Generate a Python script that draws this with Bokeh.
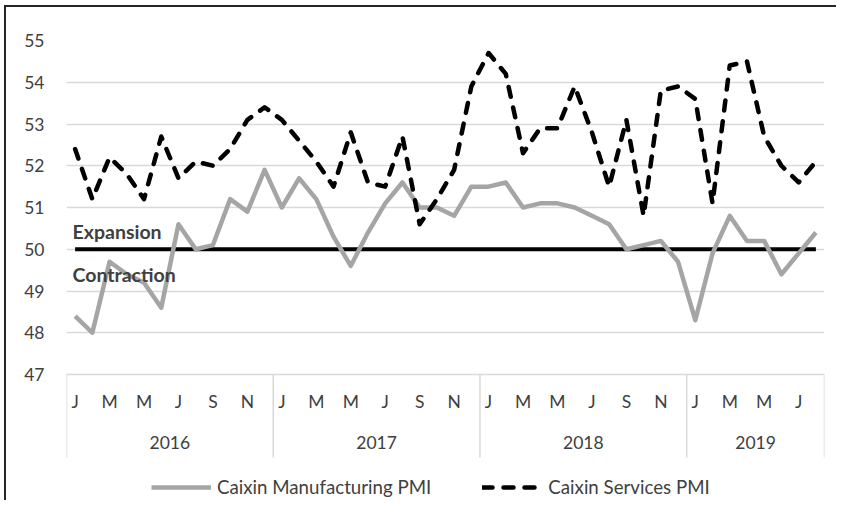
import numpy as np
from bokeh.plotting import figure
from bokeh.models import Range1d, FixedTicker, Legend, LegendItem, Label
from bokeh.core.properties import value
from bokeh.embed import file_html
from bokeh.resources import INLINE

# ---------------- data ----------------
years = ["2016", "2017", "2018", "2019"]
months_per_year = [12, 12, 12, 8]
month_letters = ["J", "F", "M", "A", "M", "J", "J", "A", "S", "O", "N", "D"]

manufacturing = [48.4, 48.0, 49.7, 49.4, 49.2, 48.6, 50.6, 50.0, 50.1, 51.2, 50.9, 51.9,
                 51.0, 51.7, 51.2, 50.3, 49.6, 50.4, 51.1, 51.6, 51.0, 51.0, 50.8, 51.5,
                 51.5, 51.6, 51.0, 51.1, 51.1, 51.0, 50.8, 50.6, 50.0, 50.1, 50.2, 49.7,
                 48.3, 49.9, 50.8, 50.2, 50.2, 49.4, 49.9, 50.4]
services = [52.4, 51.2, 52.2, 51.8, 51.2, 52.7, 51.7, 52.1, 52.0, 52.4, 53.1, 53.4,
            53.1, 52.6, 52.1, 51.5, 52.8, 51.6, 51.5, 52.7, 50.6, 51.2, 51.9, 53.9,
            54.7, 54.2, 52.3, 52.9, 52.9, 53.9, 52.8, 51.5, 53.1, 50.8, 53.8, 53.9,
            53.6, 51.1, 54.4, 54.5, 52.7, 52.0, 51.6, 52.1]
threshold = 50
y_ticks = [47, 48, 49, 50, 51, 52, 53, 54, 55]
series_names = ["Caixin Manufacturing PMI", "Caixin Services PMI"]

# ---------------- layout helpers ----------------
FONT = "Lato"
TXT = "#404040"
GRID = "#D9D9D9"
FS = "17.5px"

Y_MIN, Y_MAX = y_ticks[0], y_ticks[-1]
PLOT_H = 334                      # px between the 47 and 55 gridlines
UNIT = PLOT_H / (Y_MAX - Y_MIN)   # px per PMI point
BELOW_PX = 126                    # category-axis + legend area under the 47 line


def px_below(px):
    """data y that lies `px` pixels under the axis line (47)."""
    return Y_MIN - px / UNIT


n = len(services)
x = np.arange(n) + 0.5
month_of = [m for cnt in months_per_year for m in range(cnt)]
lab_idx = [i for i in range(n) if month_of[i] % 2 == 0]
label_x = [float(x[i]) for i in lab_idx]
label_t = [month_letters[month_of[i]] for i in lab_idx]
bounds = [float(b) for b in np.concatenate([[0], np.cumsum(months_per_year)])]
year_centers = [(bounds[i] + bounds[i + 1]) / 2 for i in range(len(years))]

p = figure(frame_width=758, frame_height=PLOT_H + BELOW_PX,
           x_range=Range1d(0, n), y_range=Range1d(px_below(BELOW_PX), Y_MAX),
           output_backend="svg", toolbar_location=None, x_axis_location=None,
           min_border_left=60, min_border_right=12, min_border_top=33, min_border_bottom=0)
p.outline_line_color = None
p.styles = {"margin-left": "4px", "margin-top": "5px",
            "border-left": "2px solid #262626", "border-top": "2px solid #262626"}

# y axis
p.yaxis.ticker = FixedTicker(ticks=y_ticks)
p.yaxis.axis_line_color = None
p.yaxis.major_tick_line_color = None
p.yaxis.minor_tick_line_color = None
p.yaxis.major_tick_out = 0
p.yaxis.major_label_standoff = 22
p.yaxis.major_label_text_font = FONT
p.yaxis.major_label_text_font_size = FS
p.yaxis.major_label_text_color = TXT

p.ygrid.ticker = FixedTicker(ticks=y_ticks)
p.ygrid.grid_line_color = GRID
p.ygrid.grid_line_width = 1.5
p.xgrid.visible = False

# multi-level category axis: separators, month letters, years
p.segment(x0=bounds, y0=[Y_MIN] * len(bounds), x1=bounds, y1=[px_below(83)] * len(bounds),
          line_color=GRID, line_width=1.5)
p.text(x=label_x, y=[px_below(27)] * len(label_x), text=label_t,
       text_font=value(FONT), text_font_size=value(FS), text_color=TXT,
       text_align="center", text_baseline="middle")
p.text(x=year_centers, y=[px_below(68)] * len(years), text=years,
       text_font=value(FONT), text_font_size=value(FS), text_color=TXT,
       text_align="center", text_baseline="middle")

# lines
r_thr = p.line(x, [threshold] * n, line_color="black", line_width=4)
r_man = p.line(x, manufacturing, line_color="#A5A5A5", line_width=4.5, line_join="round")
r_srv = p.line(x, services, line_color="black", line_width=4.5, line_dash="10 11",
               line_cap="round", line_join="round")

for txt, yv in [("Expansion", threshold + 0.43), ("Contraction", threshold - 0.6)]:
    p.add_layout(Label(x=0.35, y=yv, text=txt, text_font=FONT, text_font_style="bold",
                       text_font_size="19.5px", text_color=TXT, text_baseline="middle"))

legend = Legend(items=[LegendItem(label=series_names[0], renderers=[r_man]),
                       LegendItem(label=series_names[1], renderers=[r_srv])],
                orientation="horizontal", location=(85, 2),
                border_line_color=None, background_fill_alpha=0,
                label_text_font=FONT, label_text_font_size="18.7px", label_text_color=TXT,
                glyph_width=60, glyph_height=20, spacing=51, label_standoff=6,
                padding=0, margin=0)
p.add_layout(legend)

open("out.html", "w").write(file_html(p, INLINE))
